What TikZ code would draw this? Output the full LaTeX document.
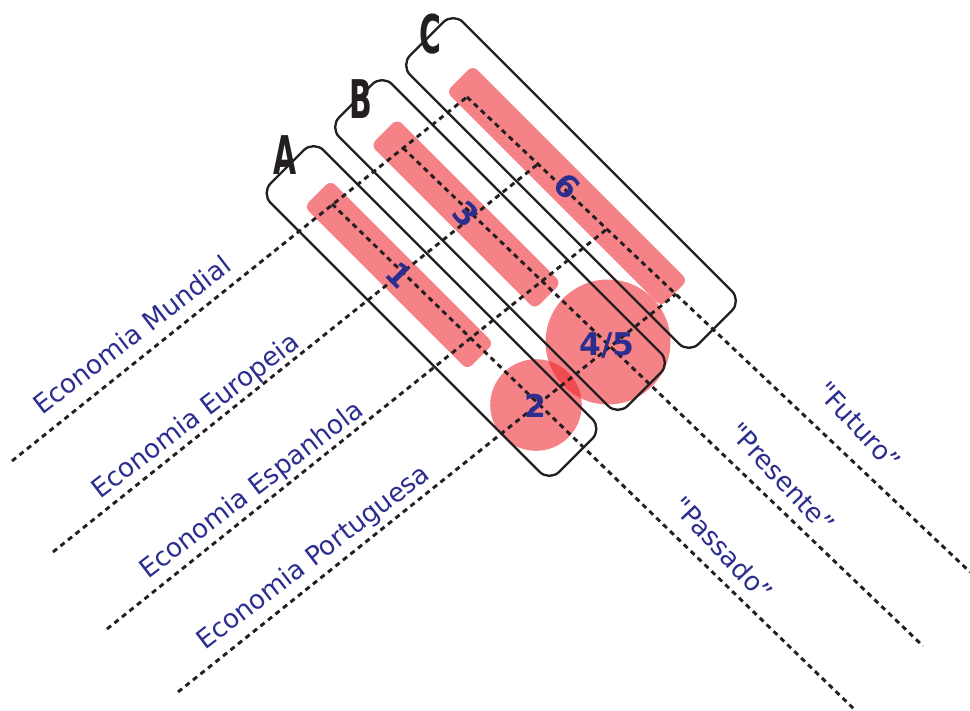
\documentclass[tikz,border=0pt]{standalone}
\usepackage{fontspec}
\setmainfont{DejaVu Sans}
\usepackage{graphicx}

\definecolor{tinta}{RGB}{43,46,142}
\definecolor{mancha}{RGB}{237,28,36}
\definecolor{traco}{RGB}{35,31,32}

\begin{document}
\begin{tikzpicture}[x=0.75pt, y=-0.75pt,
caixa/.style={draw=traco, line width=1.75pt, rounded corners=10.5pt, minimum width=306pt, minimum height=56pt, rotate=-45, inner sep=0pt},
barra/.style={fill=mancha, fill opacity=0.55, rounded corners=5pt, minimum height=28pt, rotate=-45, inner sep=0pt},
bola/.style={circle, fill=mancha, fill opacity=0.55, inner sep=0pt},
grelha/.style={draw=traco, line width=2.2pt, dash pattern=on 3.9pt off 3.3pt},
numero/.style={text=tinta, font=\fontsize{23.5}{25}\selectfont\bfseries, inner sep=0pt},
rotulo/.style={text=tinta, font=\fontsize{19.7}{24}\selectfont, inner sep=0pt},
letra/.style={text=traco, font=\fontsize{40}{41}\selectfont\bfseries, inner sep=0pt}]

\useasboundingbox (0,0) rectangle (970,710);

\def\angeco{37.5}	% economias
\def\angtmp{-47}	% tempos

% manchas
\node[barra, minimum width=173pt] (bar1) at (399,275) {};
\node[barra, minimum width=174pt] (bar3) at (466,214) {};
\node[barra, minimum width=228pt] (bar6) at (567,186) {};
\node[bola, minimum size=68.7pt] (circ2) at (536,405) {};
\node[bola, minimum size=93.7pt] (circ45) at (608,342) {};

% caixas A B C
\node[caixa] (boxA) at (431.5,311) {};
\node[caixa] (boxB) at (500,245) {};
\node[caixa] (boxC) at (571,183) {};

% grelha
\coordinate (mun) at (12,461);
\coordinate (eur) at (53,552);
\coordinate (esp) at (107,629);
\coordinate (por) at (178,692);
\coordinate (pasS) at (332,204);
\coordinate (preS) at (403,148);
\coordinate (futS) at (467,97);
\coordinate (pasE) at (855,710);
\coordinate (preE) at (923,646);
\coordinate (futE) at (970,572);
\coordinate (eurE) at (538,164);
\coordinate (espE) at (607,229);
\coordinate (porE) at (676,294);

\draw[grelha] (mun) -- (futS);
\draw[grelha] (eur) -- (eurE);
\draw[grelha] (esp) -- (espE);
\draw[grelha] (por) -- (porE);
\draw[grelha] (pasS) -- (pasE);
\draw[grelha] (preS) -- (preE);
\draw[grelha] (futS) -- (futE);

% numeros
\node[numero, rotate=-45] (n1) at (bar1) {1};
\node[numero, rotate=-45] (n3) at (bar3) {3};
\node[numero, rotate=-45] (n6) at (bar6) {6};
\node[numero] (n2) at (535,406) {2};
\node[numero] (n45) at (607,346) {4/5};

\node[letra] (letA) at (284.7,155) {\scalebox{0.56}[1]{A}};
\node[letra] (letB) at (360.5,99) {\scalebox{0.56}[1]{B}};
\node[letra] (letC) at (430.5,34) {\scalebox{0.56}[1]{C}};

% rotulos
\node[rotulo, rotate=\angeco, anchor=base west] (lmun) at (42,416) {Economia Mundial};
\node[rotulo, rotate=\angeco, anchor=base west] (leur) at (100,500) {Economia Europeia};
\node[rotulo, rotate=\angeco, anchor=base west] (lesp) at (148,580) {Economia Espanhola};
\node[rotulo, rotate=\angeco, anchor=base west] (lpor) at (205,651) {Economia Portuguesa};
\node[rotulo, rotate=\angtmp] (lfut) at (859,426) {\textquotedbl Futuro”};
\node[rotulo, rotate=\angtmp] (lpre) at (782,478) {\textquotedbl Presente”};
\node[rotulo, rotate=\angtmp] (lpas) at (723,549) {\textquotedbl Passado”};

\end{tikzpicture}
\end{document}
